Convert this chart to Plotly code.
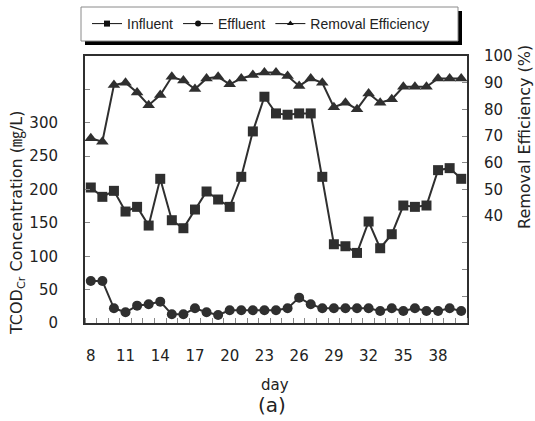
import plotly.graph_objects as go

# Days of operation
days = list(range(8, 41))

# TCODCr of the influent (mg/L)
influent = [203, 189, 198, 167, 174, 146, 216, 154, 142, 170, 197, 185, 174, 219, 287, 339, 314,
            312, 314, 314, 219, 118, 115, 105, 152, 112, 133, 176, 174, 176, 229, 232, 216]

# TCODCr of the effluent (mg/L)
effluent = [63, 63, 22, 16, 26, 28, 32, 13, 13, 22, 16, 12, 19, 19, 19, 19, 19,
            22, 38, 28, 22, 22, 22, 22, 22, 18, 22, 18, 22, 18, 18, 22, 18]

# TCODCr removal efficiency (%)
removal = [69.2, 67.9, 89.1, 90.0, 86.3, 81.6, 85.4, 92.2, 90.8, 87.6, 91.6, 92.2, 89.4, 91.6, 92.9, 93.8, 93.8,
           92.5, 88.8, 91.6, 90.0, 80.8, 82.5, 80.1, 86.0, 82.5, 83.8, 88.5, 88.5, 88.5, 91.6, 91.6, 91.6]

x_labels = list(range(8, 39, 3))
left_ticks = [0, 50, 100, 150, 200, 250, 300, 350]
right_ticks = [0, 10, 20, 30, 40, 50, 60, 70, 80, 90, 100]

W, H = 535, 421
L, R, T, B = 85, 68, 56, 98
PW, PH = W - L - R, H - T - B

INK = "#2f2f2f"
FONT = "DejaVu Sans"
LEG_FONT = "Liberation Sans, Arial, sans-serif"


def px_x(p):
    return (p - L) / PW


def px_y(p):
    return (H - B - p) / PH


fig = go.Figure()

series = [
    ("Influent", influent, "square", 10, "y"),
    ("Effluent", effluent, "circle", 10, "y"),
    ("Removal Efficiency", removal, "triangle-up", 11, "y2"),
]

for name, vals, sym, size, ax in series:
    fig.add_trace(go.Scatter(
        x=days, y=vals, yaxis=ax, mode="lines+markers", name=name,
        line=dict(color=INK, width=2),
        marker=dict(symbol=sym, size=size, color=INK),
        showlegend=False, cliponaxis=False,
    ))

# legend entries with small markers
for name, vals, sym, size, ax in series:
    fig.add_trace(go.Scatter(
        x=[None], y=[None], yaxis=ax, mode="lines+markers", name=name,
        line=dict(color="#111111", width=1),
        marker=dict(symbol=sym, size=6, color="#111111"),
        showlegend=True,
    ))

# legend frame: black drop shadow, then white box with grey border
fig.add_shape(type="rect", xref="paper", yref="paper",
              x0=px_x(85), x1=px_x(462), y0=px_y(45), y1=px_y(11),
              fillcolor="black", line=dict(width=0), layer="above")
fig.add_shape(type="rect", xref="paper", yref="paper",
              x0=px_x(81), x1=px_x(458), y0=px_y(41), y1=px_y(7),
              fillcolor="white", line=dict(width=1, color="#8a8a8a"), layer="above")

fig.update_layout(
    width=W, height=H,
    margin=dict(l=L, r=R, t=T, b=B, autoexpand=False),
    paper_bgcolor="white", plot_bgcolor="white",
    font=dict(family=FONT, size=15, color="#222222"),
    legend=dict(
        orientation="h", xref="container", yref="container",
        x=87 / W, y=1 - 24 / H, xanchor="left", yanchor="middle",
        bgcolor="rgba(0,0,0,0)", borderwidth=0,
        font=dict(family=LEG_FONT, size=14, color="#222222"),
        itemwidth=30, tracegroupgap=0,
    ),
    xaxis=dict(
        range=[7.5, 40.5], tickmode="array", tickvals=x_labels,
        ticktext=[str(v) for v in x_labels], ticks="",
        ticklabelstandoff=18,
        showgrid=False, zeroline=False,
        showline=True, linecolor=INK, linewidth=2, mirror=True,
        minor=dict(tickmode="linear", tick0=0.5, dtick=1, ticks="inside",
                   ticklen=5, tickcolor="#888888", tickwidth=1, showgrid=False),
        tickfont=dict(size=15),
    ),
    yaxis=dict(
        range=[0, 400], tickmode="array", tickvals=left_ticks,
        ticktext=[str(v) if v <= 300 else "" for v in left_ticks],
        ticks="inside", ticklen=5, tickcolor="#888888",
        ticklabelstandoff=22,
        showgrid=False, zeroline=False,
        showline=True, linecolor=INK, linewidth=2, mirror=True,
        tickfont=dict(size=15),
    ),
    yaxis2=dict(
        range=[0, 100], overlaying="y", side="right", tickmode="array",
        tickvals=right_ticks,
        ticktext=[str(v) if v >= 40 else "" for v in right_ticks],
        ticks="inside", ticklen=5, tickcolor="#888888",
        ticklabelstandoff=16,
        showgrid=False, zeroline=False, showline=False,
        tickfont=dict(size=15),
    ),
)

title_font = dict(family=FONT + ", Noto Sans CJK KR", size=16, color="#222222")
common = dict(xref="paper", yref="paper", showarrow=False,
              xanchor="center", yanchor="middle")

fig.add_annotation(text="TCOD<sub>Cr</sub> Concentration (㎎/L)",
                   x=px_x(17), y=px_y(223), textangle=-90, font=title_font, **common)
fig.add_annotation(text="Removal Efficiency (%)",
                   x=px_x(524), y=px_y(137), textangle=-90, font=title_font, **common)
fig.add_annotation(text="day", x=px_x(275), y=px_y(385),
                   font=dict(size=15, color="#222222"), **common)
fig.add_annotation(text="(a)", x=px_x(272), y=px_y(405),
                   font=dict(size=20, color="#222222"), **common)

fig.write_html("out.html")
